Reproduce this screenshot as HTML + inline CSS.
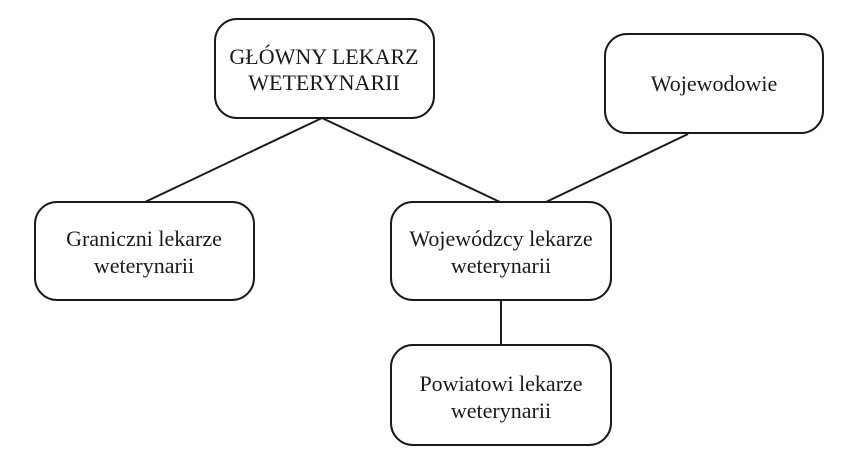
<!DOCTYPE html>
<html><head><meta charset="utf-8"><style>
html,body{margin:0;padding:0;background:#fff;}
svg{display:block;}
text{font-family:"Liberation Serif",serif;font-size:22px;fill:#1a1a1a;}
</style></head><body>
<svg width="846" height="469" viewBox="0 0 846 469" xmlns="http://www.w3.org/2000/svg">
<g stroke="#1a1a1a" stroke-width="2" fill="none">
<line x1="322" y1="118" x2="145" y2="202"/>
<line x1="322" y1="118" x2="500" y2="202"/>
<line x1="688" y1="134" x2="546" y2="202"/>
<line x1="501" y1="300" x2="501" y2="345"/>
<rect x="215" y="19" width="219" height="99" rx="22" fill="#fff"/>
<rect x="605" y="34" width="218" height="99" rx="22" fill="#fff"/>
<rect x="35" y="202" width="219" height="98" rx="22" fill="#fff"/>
<rect x="391" y="202" width="220" height="98" rx="22" fill="#fff"/>
<rect x="391" y="345" width="220" height="100" rx="22" fill="#fff"/>
</g>
<g text-anchor="middle">
<text x="324" y="64">GŁÓWNY LEKARZ</text>
<text x="324" y="90">WETERYNARII</text>
<text x="714" y="91">Wojewodowie</text>
<text x="144" y="246">Graniczni lekarze</text>
<text x="144" y="273">weterynarii</text>
<text x="501" y="246">Wojewódzcy lekarze</text>
<text x="501" y="273">weterynarii</text>
<text x="501" y="391">Powiatowi lekarze</text>
<text x="501" y="418">weterynarii</text>
</g>
</svg>
</body></html>
